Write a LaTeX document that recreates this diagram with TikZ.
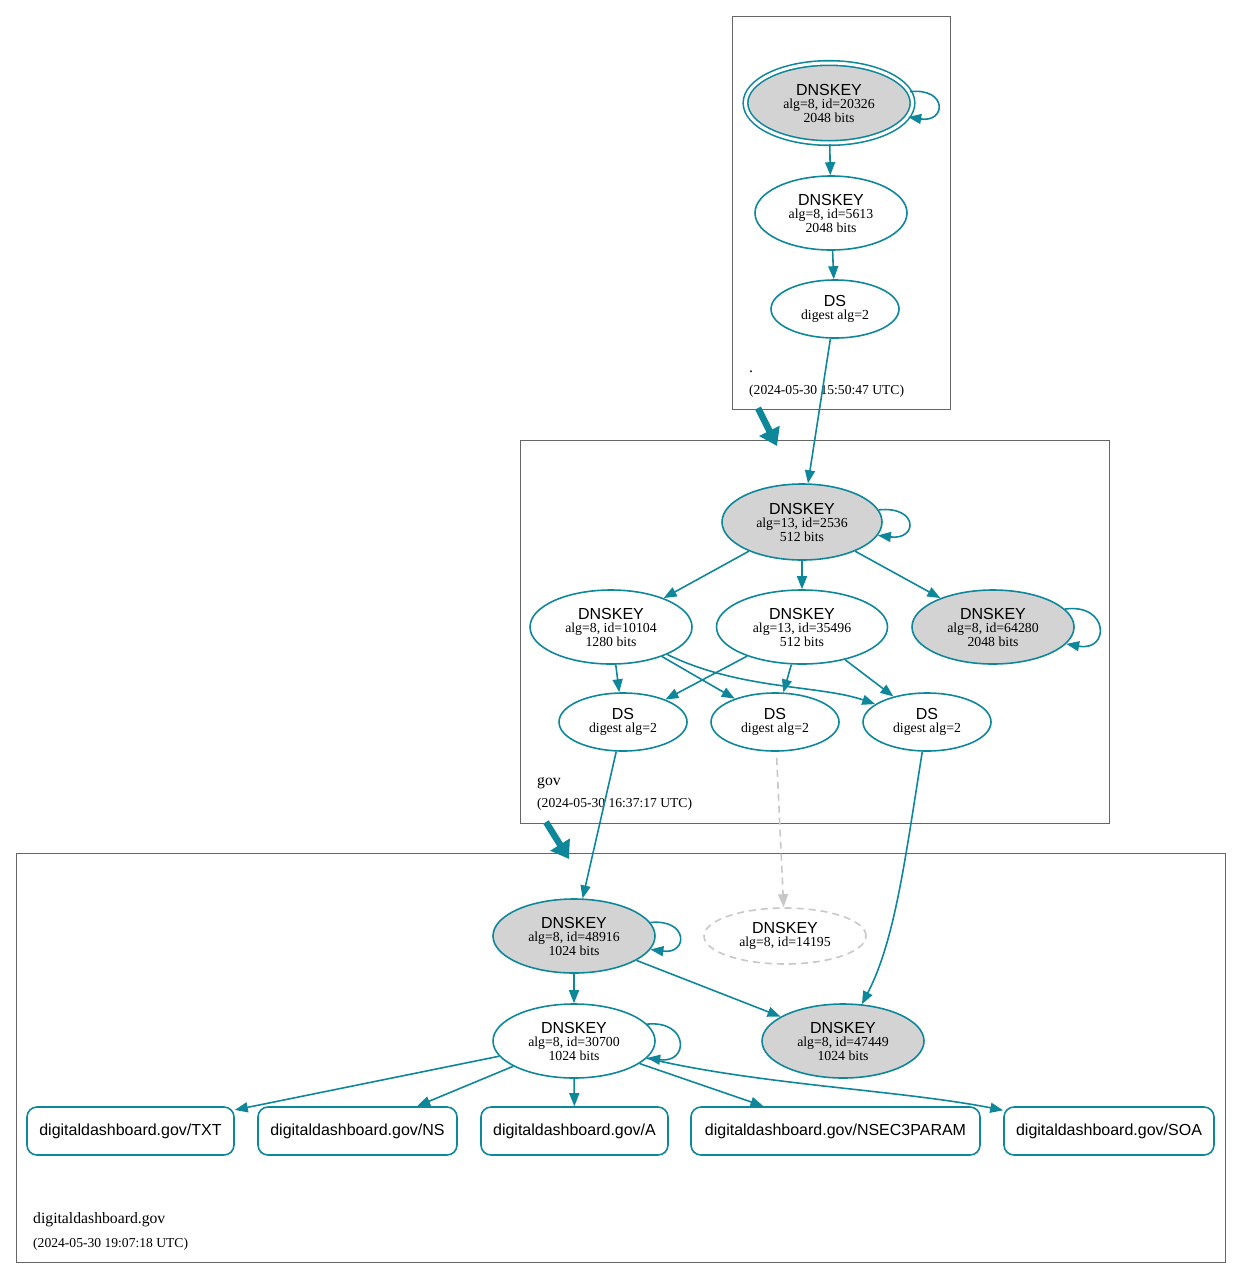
\documentclass[tikz,border=0pt]{standalone}
\usepackage{fontspec}
\setmainfont{Liberation Serif}
\setsansfont{Liberation Sans}
\usetikzlibrary{shapes.geometric}
\usetikzlibrary{arrows.meta}
\definecolor{dnsteal}{HTML}{0E879A}
\definecolor{keyfill}{HTML}{D3D3D3}
\definecolor{zoneline}{HTML}{666666}
\definecolor{missing}{HTML}{C8C8C8}
\newcommand{\rrtype}[1]{{\sffamily\fontsize{16}{16}\selectfont #1}}

\begin{document}
\begin{tikzpicture}[x=1pt,y=-1pt,
    edge/.style={draw=dnsteal,line width=1.6pt,-{Triangle[length=13pt,width=10pt]}},
    zone edge/.style={draw=dnsteal,line width=6.5pt,-{Triangle[length=17pt,width=22pt]}},
    zone/.style={draw=zoneline,line width=0.8pt},
    key/.style={ellipse,draw=dnsteal,line width=1.6pt,inner sep=0pt,align=center,
        font=\fontsize{13.8}{13.5}\selectfont,minimum width=162pt,minimum height=74pt},
    sep/.style={fill=keyfill},
    ds/.style={key,minimum width=128pt,minimum height=58pt},
    rrset/.style={rectangle,rounded corners=10pt,draw=dnsteal,line width=1.6pt,
        minimum height=48pt,font=\sffamily\fontsize{16}{16}\selectfont},
    zonename/.style={anchor=base west,inner sep=0pt,font=\fontsize{15.7}{16}\selectfont},
    zonedate/.style={anchor=base west,inner sep=0pt,font=\fontsize{13.6}{14}\selectfont}]
    \useasboundingbox (0,0) rectangle (1241,1278);

    % zones
    \draw[zone] (732,16) rectangle (950,409);
    \draw[zone] (520,440) rectangle (1109,823);
    \draw[zone] (16,853) rectangle (1225,1262);
    \node[zonename] (rootname) at (749,372) {.};
    \node[zonedate] (rootdate) at (749,394) {(2024-05-30 15:50:47 UTC)};
    \node[zonename] (govname) at (537,785) {gov};
    \node[zonedate] (govdate) at (537,807) {(2024-05-30 16:37:17 UTC)};
    \node[zonename] (ddname) at (33,1223) {digitaldashboard.gov};
    \node[zonedate] (dddate) at (33,1247) {(2024-05-30 19:07:18 UTC)};

    % root
    \node[key,sep,double=white,double distance=3pt,minimum width=167pt,minimum height=80pt] (r20326) at (829,103)
        {\rrtype{DNSKEY}\\[0pt] alg=8, id=20326\\ 2048 bits};
    \node[key,minimum width=152pt] (r5613) at (831,213)
        {\rrtype{DNSKEY}\\[0pt] alg=8, id=5613\\ 2048 bits};
    \node[ds] (rds) at (835,309) {\rrtype{DS}\\[0pt] digest alg=2};

    % gov
    \node[key,sep,minimum width=160pt,minimum height=76pt] (g2536) at (802,522)
        {\rrtype{DNSKEY}\\[0pt] alg=13, id=2536\\ 512 bits};
    \node[key] (g10104) at (611,627)
        {\rrtype{DNSKEY}\\[0pt] alg=8, id=10104\\ 1280 bits};
    \node[key,minimum width=171pt] (g35496) at (802,627)
        {\rrtype{DNSKEY}\\[0pt] alg=13, id=35496\\ 512 bits};
    \node[key,sep] (g64280) at (993,627)
        {\rrtype{DNSKEY}\\[0pt] alg=8, id=64280\\ 2048 bits};
    \node[ds] (gds1) at (623,722) {\rrtype{DS}\\[0pt] digest alg=2};
    \node[ds] (gds2) at (775,722) {\rrtype{DS}\\[0pt] digest alg=2};
    \node[ds] (gds3) at (927,722) {\rrtype{DS}\\[0pt] digest alg=2};

    % digitaldashboard.gov
    \node[key,sep] (d48916) at (574,936)
        {\rrtype{DNSKEY}\\[0pt] alg=8, id=48916\\ 1024 bits};
    \node[key,draw=missing,dashed,dash pattern=on 7pt off 5pt,minimum height=56pt] (d14195) at (785,936)
        {\rrtype{DNSKEY}\\[0pt] alg=8, id=14195};
    \node[key] (d30700) at (574,1041)
        {\rrtype{DNSKEY}\\[0pt] alg=8, id=30700\\ 1024 bits};
    \node[key,sep] (d47449) at (843,1041)
        {\rrtype{DNSKEY}\\[0pt] alg=8, id=47449\\ 1024 bits};
    \node[rrset,minimum width=207pt] (txt) at (130.5,1131) {digitaldashboard.gov/TXT};
    \node[rrset,minimum width=199pt] (ns) at (357.5,1131) {digitaldashboard.gov/NS};
    \node[rrset,minimum width=187pt] (a) at (574.5,1131) {digitaldashboard.gov/A};
    \node[rrset,minimum width=289pt] (nsec3param) at (835.5,1131) {digitaldashboard.gov/NSEC3PARAM};
    \node[rrset,minimum width=210pt] (soa) at (1109,1131) {digitaldashboard.gov/SOA};

    % delegations
    \coordinate (rootout) at (758,408);
    \coordinate (govin) at (777,446);
    \coordinate (govout) at (546,822);
    \coordinate (ddin) at (569,859);
    \draw[zone edge] (rootout) -- (govin);
    \draw[zone edge] (govout) -- (ddin);

    % root edges
    \draw[edge] (r20326.8) .. controls +(38,-4) and +(38,6) .. (r20326.-10);
    \draw[edge] (r20326) -- (r5613);
    \draw[edge] (r5613) -- (rds);
    \draw[edge] (rds) -- (g2536);

    % gov edges
    \draw[edge] (g2536.9) .. controls +(40,-4) and +(40,5) .. (g2536.-10);
    \draw[edge] (g2536) -- (g10104);
    \draw[edge] (g2536) -- (g35496);
    \draw[edge] (g2536) -- (g64280);
    \draw[edge] (g64280.14) .. controls +(44,-6) and +(44,8) .. (g64280.-13);
    \draw[edge] (g10104) -- (gds1);
    \draw[edge] (g10104) -- (gds2);
    \draw[edge] (g10104) .. controls (740,690) and (820,685) .. (gds3);
    \draw[edge] (g35496) -- (gds1);
    \draw[edge] (g35496) -- (gds2);
    \draw[edge] (g35496) -- (gds3);
    \draw[edge] (gds1) -- (d48916);
    \draw[edge,draw=missing,dashed,dash pattern=on 7pt off 5pt,shorten <=6pt] (gds2) -- (d14195);
    \draw[edge] (gds3) .. controls (905,860) and (895,940) .. (d47449);

    % digitaldashboard.gov edges
    \draw[edge] (d48916.10) .. controls +(38,-4) and +(38,5) .. (d48916.-10);
    \draw[edge] (d48916) -- (d30700);
    \draw[edge] (d48916) -- (d47449);
    \draw[edge] (d30700.13) .. controls +(42,-4) and +(42,6) .. (d30700.-13);
    \draw[edge] (d30700) -- (txt);
    \draw[edge] (d30700) -- (ns);
    \draw[edge] (d30700) -- (a);
    \draw[edge] (d30700) -- (nsec3param);
    \draw[edge] (d30700) .. controls (760,1085) and (900,1090) .. (soa);
\end{tikzpicture}
\end{document}
